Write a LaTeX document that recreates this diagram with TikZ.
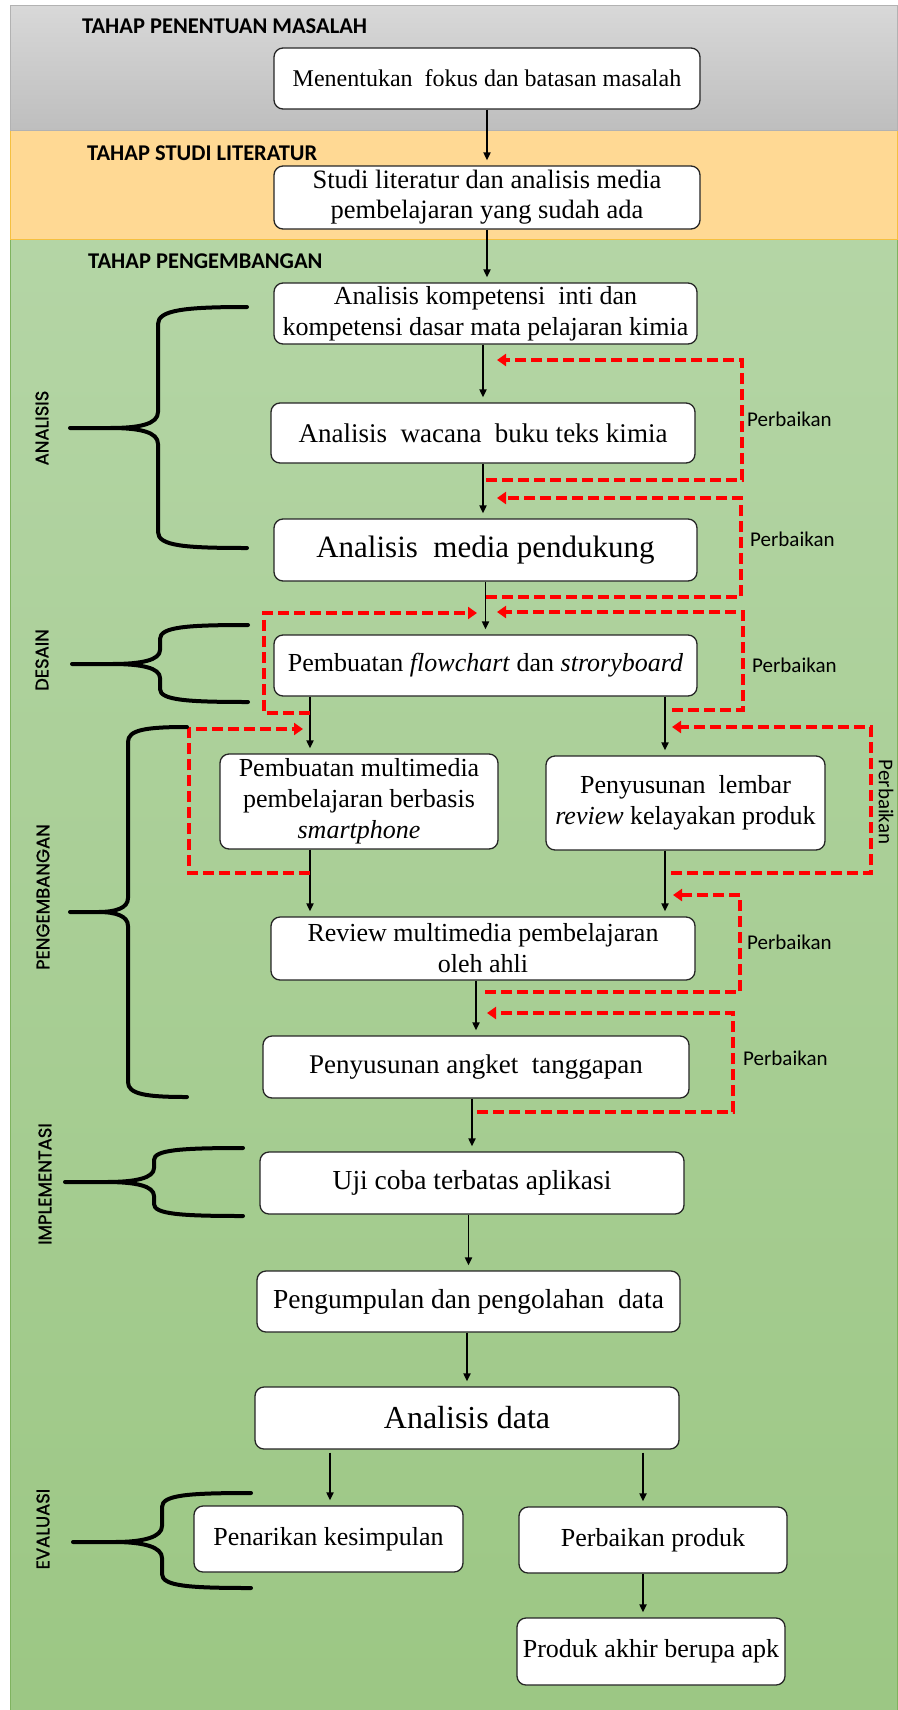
\documentclass[tikz,border=0pt]{standalone}
\usepackage{fontspec}
\setmainfont{Liberation Serif}
\newfontfamily\calibri{Carlito}
\newfontfamily\gothic[FakeBold=1.2]{Poppins}
\usetikzlibrary{arrows.meta}

\definecolor{bandgrayA}{HTML}{D8D8D8}
\definecolor{bandgrayB}{HTML}{BEBEBE}
\definecolor{bandyellow}{HTML}{FFD994}
\definecolor{bandgreenA}{HTML}{B4D5A5}
\definecolor{bandgreenB}{HTML}{9CC784}
\definecolor{edgegreen}{HTML}{7FB35F}
\definecolor{edgegold}{HTML}{F5C040}
\definecolor{loopred}{HTML}{FF0000}

\tikzset{
  kotak/.style={draw=black!85, fill=white, rounded corners=9pt, line width=1.3pt,
    align=center, inner sep=3pt, font=\fontsize{26}{31}\selectfont},
  arr/.style={line width=1.9pt, -{Triangle[length=8pt,width=7pt]}, shorten >=5pt},
  redo/.style={draw=loopred, line width=3.5pt, dash pattern=on 11pt off 5pt,
    -{Triangle[length=9pt,width=12pt]}},
  curly/.style={line width=4pt, line join=round, line cap=round},
  tahap/.style={font=\calibri\bfseries\fontsize{22.5}{26}\selectfont, anchor=west, inner sep=0pt},
  fase/.style={font=\gothic\fontsize{18}{22}\selectfont, rotate=90, inner sep=0pt},
  revisi/.style={font=\calibri\fontsize{21}{25}\selectfont, anchor=west, inner sep=0pt},
}

\begin{document}
\begin{tikzpicture}[x=1pt, y=-1pt]
    \useasboundingbox (0,0) rectangle (897,1710);

    % the coloured bands
    \shadedraw[top color=bandgreenA, bottom color=bandgreenB, draw=edgegreen, line width=1pt] (10,239) rectangle (897,1710);
    \filldraw[fill=bandyellow, draw=edgegold, line width=1pt] (10,130) rectangle (897,239);
    \shadedraw[top color=bandgrayA, bottom color=bandgrayB, draw=gray!60, line width=1pt] (10,6) rectangle (897,130);

    % the stage titles
    \node[tahap] (t1) at (82,26) {TAHAP PENENTUAN MASALAH};
    \node[tahap] (t2) at (87,153) {TAHAP STUDI LITERATUR};
    \node[tahap] (t3) at (88,261) {TAHAP PENGEMBANGAN};

    % the steps
    \node[kotak, minimum width=426pt, minimum height=61pt, font=\fontsize{24}{29}\selectfont] (masalah) at (487,78.5) {Menentukan\ \ fokus dan batasan masalah};
    \node[kotak, minimum width=426pt, minimum height=63pt, font=\fontsize{26.5}{30}\selectfont] (literatur) at (487,197.5) {Studi literatur dan analisis media\\pembelajaran yang sudah ada};
    \node[kotak, minimum width=423pt, minimum height=61pt] (kompetensi) at (485.5,313.5) {Analisis kompetensi\ \ inti dan\\kompetensi dasar mata pelajaran kimia};
    \node[kotak, minimum width=424pt, minimum height=60pt, font=\fontsize{27}{32}\selectfont] (wacana) at (483,433) {Analisis\ \ wacana\ \ buku teks kimia};
    \node[kotak, minimum width=423pt, minimum height=62pt, font=\fontsize{31}{36}\selectfont] (pendukung) at (485.5,550) {Analisis\ \ media pendukung};
    \node[kotak, minimum width=423pt, minimum height=61pt] (flowchart) at (485.5,665.5) {Pembuatan \textit{flowchart} dan \textit{stroryboard}};
    \node[kotak, minimum width=278pt, minimum height=95pt] (multimedia) at (359,801.5) {Pembuatan multimedia\\pembelajaran berbasis\\\textit{smartphone}};
    \node[kotak, minimum width=279pt, minimum height=94pt] (lembar) at (685.5,803) {Penyusunan\ \ lembar\\\textit{review} kelayakan produk};
    \node[kotak, minimum width=424pt, minimum height=63pt] (ahli) at (483,948.5) {Review multimedia pembelajaran\\oleh ahli};
    \node[kotak, minimum width=426pt, minimum height=62pt, font=\fontsize{27}{32}\selectfont] (angket) at (476,1067) {Penyusunan angket\ \ tanggapan};
    \node[kotak, minimum width=424pt, minimum height=62pt, font=\fontsize{27.5}{32}\selectfont] (ujicoba) at (472,1183) {Uji coba terbatas aplikasi};
    \node[kotak, minimum width=423pt, minimum height=61pt, font=\fontsize{27.5}{32}\selectfont] (olahdata) at (468.5,1301.5) {Pengumpulan dan pengolahan\ \ data};
    \node[kotak, minimum width=424pt, minimum height=62pt, font=\fontsize{32}{37}\selectfont] (analisis) at (467,1418) {Analisis data};
    \node[kotak, minimum width=269pt, minimum height=66pt] (simpulan) at (328.5,1539) {Penarikan kesimpulan};
    \node[kotak, minimum width=268pt, minimum height=66pt] (perbaikan) at (653,1540) {Perbaikan produk};
    \node[kotak, minimum width=268pt, minimum height=67pt] (apk) at (651,1651.5) {Produk akhir berupa apk};

    % columns of the split arrows
    \coordinate (kiri) at (310,0);
    \coordinate (kanan) at (665,0);
    \coordinate (kiri2) at (330,0);
    \coordinate (kanan2) at (643,0);

    % draw the arrows
    \draw[arr] (masalah.south) -- (literatur.north);
    \draw[arr] (literatur.south) -- (literatur.south |- kompetensi.north);
    \draw[arr] (wacana.north |- kompetensi.south) -- (wacana.north);
    \draw[arr] (wacana.south) -- (wacana.south |- pendukung.north);
    \draw[arr] (pendukung.south) -- (flowchart.north);
    \draw[arr] (flowchart.south -| kiri) -- (multimedia.north -| kiri);
    \draw[arr] (flowchart.south -| kanan) -- (lembar.north -| kanan);
    \draw[arr] (multimedia.south -| kiri) -- (ahli.north -| kiri);
    \draw[arr] (lembar.south -| kanan) -- (ahli.north -| kanan);
    \draw[arr] (angket.north |- ahli.south) -- (angket.north);
    \draw[arr] (ujicoba.north |- angket.south) -- (ujicoba.north);
    \draw[arr] (olahdata.north |- ujicoba.south) -- (olahdata.north);
    \draw[arr] (analisis.north |- olahdata.south) -- (analisis.north);
    \draw[arr, shorten <=3pt] (analisis.south -| kiri2) -- (simpulan.north -| kiri2);
    \draw[arr, shorten <=3pt] (analisis.south -| kanan2) -- (perbaikan.north -| kanan2);
    \draw[arr] (perbaikan.south -| kanan2) -- (apk.north -| kanan2);

    % the feedback loops
    \draw[redo] (486,480) -| (742,360) -- (497,360);
    \draw[redo] (486,597) -| (741,498) -- (497,498);
    \draw[redo] (672,710) -| (743,612) -- (497,612);
    \draw[redo] (310,713) -| (264,613) -- (477,613);
    \draw[redo] (310,873) -| (189,729) -- (303,729);
    \draw[redo] (671,873) -| (871,727) -- (672,727);
    \draw[redo] (485,992) -| (740,895) -- (673,895);
    \draw[redo] (477,1112) -| (733,1013) -- (487,1013);

    \node[revisi] (p1) at (747,419) {Perbaikan};
    \node[revisi] (p2) at (750,539) {Perbaikan};
    \node[revisi] (p3) at (752,665) {Perbaikan};
    \node[revisi, anchor=center, rotate=-90] (p4) at (886,802) {Perbaikan};
    \node[revisi] (p5) at (747,942) {Perbaikan};
    \node[revisi] (p6) at (743,1058) {Perbaikan};

    % the braces and the phases
    \draw[curly] (247,307) .. controls (185,307) and (158,310) .. (158,324) -- (158,412) .. controls (158,424) and (140,428) .. (110,428) -- (70,428)
        (110,428) .. controls (140,428) and (158,432) .. (158,444) -- (158,532) .. controls (158,546) and (185,548) .. (247,548);
    \draw[curly] (248,625) .. controls (186,625) and (160,627) .. (160,639) -- (160,650) .. controls (160,660) and (142,664) .. (112,664) -- (72,664)
        (112,664) .. controls (142,664) and (160,668) .. (160,678) -- (160,689) .. controls (160,700) and (186,702) .. (248,702);
    \draw[curly] (187,727) .. controls (145,727) and (128,730) .. (128,742) -- (128,898) .. controls (128,908) and (116,912) .. (98,912) -- (70,912)
        (98,912) .. controls (116,912) and (128,916) .. (128,926) -- (128,1082) .. controls (128,1094) and (145,1097) .. (187,1097);
    \draw[curly] (243,1148) .. controls (180,1148) and (154,1150) .. (154,1160) -- (154,1168) .. controls (154,1178) and (136,1182) .. (106,1182) -- (65,1182)
        (106,1182) .. controls (136,1182) and (154,1186) .. (154,1196) -- (154,1204) .. controls (154,1214) and (180,1216) .. (243,1216);
    \draw[curly] (251,1493) .. controls (188,1493) and (162,1495) .. (162,1507) -- (162,1526) .. controls (162,1537) and (144,1542) .. (114,1542) -- (73,1542)
        (114,1542) .. controls (144,1542) and (162,1547) .. (162,1558) -- (162,1574) .. controls (162,1586) and (188,1588) .. (251,1588);

    \node[fase] (f1) at (42,428) {ANALISIS};
    \node[fase] (f2) at (42,660) {DESAIN};
    \node[fase] (f3) at (43,897) {PENGEMBANGAN};
    \node[fase] (f4) at (45,1184) {IMPLEMENTASI};
    \node[fase] (f5) at (43,1529) {EVALUASI};

\end{tikzpicture}
\end{document}
